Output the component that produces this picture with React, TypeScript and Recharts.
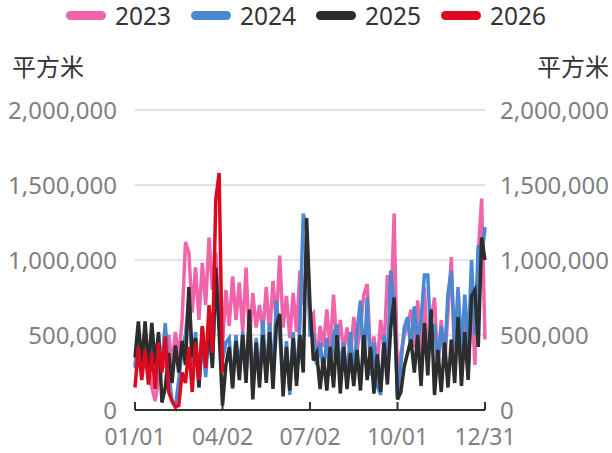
import React from 'react';
import { LineChart, Line, XAxis, YAxis, CartesianGrid } from 'recharts';

// tick labels for the date axis (day-of-year positions)
const tickDays = [0, 91, 182, 273, 364];
const tickLabels = ['01/01', '04/02', '07/02', '10/01', '12/31'];
const yTicks = [0, 500000, 1000000, 1500000, 2000000];

// values in thousands of m², two readings per week (every 3.5 days)
const v2023 = [
  300, 480, 250, 500, 300, 150, 60, 200, 420, 280, 500, 300, 520, 350, 600, 1120, 1050, 650, 950, 600,
  980, 700, 1150, 800, 1050, 650, 420, 800, 560, 890, 600, 850, 520, 950, 450, 780, 550, 700, 520, 820,
  500, 860, 580, 1030, 550, 760, 480, 780, 520, 930, 700, 1000, 600, 640, 300, 560, 420, 670, 400, 770,
  420, 600, 380, 550, 350, 620, 400, 560, 770, 840, 350, 490, 300, 600, 400, 900, 600, 1310, 200, 380,
  500, 560, 670, 420, 730, 350, 820, 300, 600, 750, 280, 600, 300, 650, 1020, 280, 560, 220, 620, 240,
  780, 300, 1050, 1410, 470,
];
const v2024 = [
  280, 500, 260, 520, 250, 500, 300, 480, 300, 580, 250, 60, 20, 200, 400, 500, 750, 300, 520, 150,
  480, 220, 520, 300, 850, 600, 330, 450, 480, 140, 500, 250, 520, 230, 600, 120, 480, 200, 600, 210,
  580, 200, 730, 500, 140, 460, 100, 520, 200, 570, 1310, 1200, 500, 500, 300, 450, 250, 480, 230, 500,
  570, 250, 450, 180, 520, 220, 530, 730, 300, 750, 230, 450, 160, 100, 500, 300, 930, 700, 90, 300,
  550, 620, 400, 690, 450, 600, 900, 900, 400, 570, 300, 560, 350, 780, 930, 420, 820, 400, 770, 420,
  1000, 500, 1100, 1000, 1220,
];
const v2025 = [
  350, 590, 300, 590, 280, 580, 300, 520, 50, 150, 380, 180, 430, 250, 460, 300, 820, 350, 480, 150,
  550, 300, 570, 280, 950, 520, 30, 300, 420, 150, 460, 200, 500, 180, 670, 70, 450, 150, 500, 180,
  520, 140, 560, 640, 90, 420, 130, 480, 160, 500, 250, 1280, 700, 330, 380, 140, 350, 130, 420, 150,
  500, 110, 420, 140, 380, 160, 400, 130, 500, 200, 420, 110, 370, 120, 450, 170, 550, 750, 70, 120,
  290, 380, 470, 250, 500, 160, 580, 230, 670, 100, 400, 120, 450, 150, 470, 180, 620, 160, 520, 200,
  760, 800, 420, 1150, 1000,
];
const v2026 = [
  150, 420, 200, 400, 170, 380, 140, 450, 250, 490, 120, 60, 20, 30, 250, 180, 420, 120, 450, 200,
  560, 280, 700, 380, 1400, 1580, 250,
];

const series = [
  { key: 's2023', name: '2023', color: '#f064aa', axis: 'right' },
  { key: 's2024', name: '2024', color: '#4a88d2', axis: 'left' },
  { key: 's2025', name: '2025', color: '#2d2d2d', axis: 'left' },
  { key: 's2026', name: '2026', color: '#dc0a1e', axis: 'left' },
];

const data = v2023.map((_, i) => ({
  day: i * 3.5,
  s2023: v2023[i] * 1000,
  s2024: v2024[i] * 1000,
  s2025: v2025[i] * 1000,
  s2026: i < v2026.length ? v2026[i] * 1000 : undefined,
}));

const fmtY = (v: number) => v.toLocaleString('en-US');
const fmtX = (v: number) => tickLabels[tickDays.indexOf(v)] ?? '';

const font = '"Noto Sans", "Noto Sans CJK SC", sans-serif';
const xTickStyle = { fontSize: 23, fill: '#7f7f7f', fontFamily: font };
const yTickStyle = { fontSize: 24, fill: '#7f7f7f', fontFamily: font };

export default function App() {
  return (
    <div style={{ position: 'absolute', left: 0, top: 0, width: 612, height: 453, background: '#fff', fontFamily: font }}>
      <div style={{ position: 'absolute', top: -1, left: 0, width: 612, display: 'flex', justifyContent: 'center', gap: 20 }}>
        {series.map((s) => (
          <div key={s.key} style={{ display: 'flex', alignItems: 'center', gap: 9, fontSize: 24.5, color: '#333' }}>
            <span style={{ display: 'inline-block', width: 40, height: 9, borderRadius: 4.5, background: s.color }} />
            {s.name}
          </div>
        ))}
      </div>
      <div style={{ position: 'absolute', top: 48, left: 12, fontSize: 24, color: '#333', fontFamily: '"Noto Sans CJK SC"' }}>平方米</div>
      <div style={{ position: 'absolute', top: 48, left: 537, fontSize: 24, color: '#333', fontFamily: '"Noto Sans CJK SC"' }}>平方米</div>
      <LineChart width={612} height={453} data={data} margin={{ top: 110, right: 0, bottom: 0, left: 0 }}>
        <CartesianGrid horizontal vertical={false} stroke="#d8d8e0" strokeWidth={1.5} yAxisId="left" />
        <XAxis
          dataKey="day"
          type="number"
          domain={[0, 364]}
          ticks={tickDays}
          tickFormatter={fmtX}
          height={43}
          tick={xTickStyle}
          tickSize={-8}
          tickMargin={27}
          axisLine={{ stroke: '#333', strokeWidth: 2 }}
          tickLine={{ stroke: '#333', strokeWidth: 2 }}
          interval={0}
        />
        <YAxis
          yAxisId="left"
          orientation="left"
          width={135}
          domain={[0, 2000000]}
          ticks={yTicks}
          tickFormatter={fmtY}
          tick={yTickStyle}
          axisLine={false}
          tickLine={false}
          tickSize={12}
          tickMargin={6}
        />
        <YAxis
          yAxisId="right"
          orientation="right"
          width={127}
          domain={[0, 2000000]}
          ticks={yTicks}
          tickFormatter={fmtY}
          tick={yTickStyle}
          axisLine={false}
          tickLine={false}
          tickSize={10}
          tickMargin={5}
        />
        {series.map((s) => (
          <Line
            key={s.key}
            yAxisId={s.axis}
            dataKey={s.key}
            name={s.name}
            type="linear"
            stroke={s.color}
            strokeWidth={3.5}
            dot={false}
            isAnimationActive={false}
            connectNulls={false}
          />
        ))}
      </LineChart>
    </div>
  );
}
